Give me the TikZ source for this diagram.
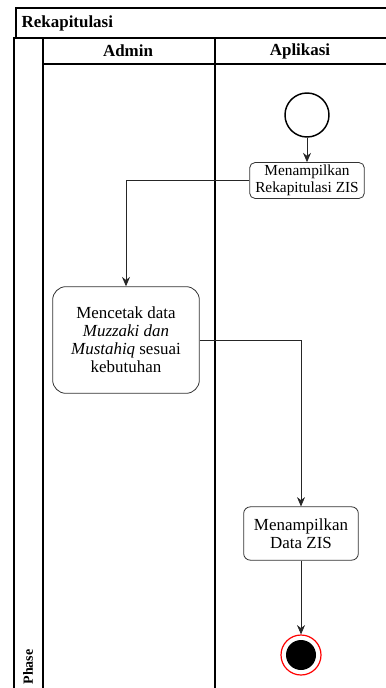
\documentclass[tikz,border=0pt]{standalone}
\usepackage{fontspec}
\setmainfont{Liberation Serif}
\usetikzlibrary{positioning, arrows.meta}
\tikzset{
    lane/.style={draw, line width=0.8pt}, % swimlane borders
    lanetitle/.style={font=\fontsize{12.7}{14}\selectfont\bfseries},
    action/.style={ % activity boxes
        draw=black!80,
        semithick,
        rounded corners=4pt,
        align=center,
        inner sep=2pt,
        font=\fontsize{12.7}{13.5}\selectfont
    },
    startnode/.style={circle, draw, line width=1.1pt, minimum size=33pt, inner sep=0pt},
    endnode/.style={circle, draw=red, line width=0.9pt, minimum size=30pt, inner sep=0pt},
    flow/.style={ % control flow
        draw=black!85,
        semithick,
        -{Stealth[length=7pt,width=6pt]}
    }
}
\begin{document}
\begin{tikzpicture}[x=0.75pt,y=-0.75pt]
    \useasboundingbox (0,0) rectangle (385,688);
    % pool and lanes
    \draw[lane] (16,8) rectangle (390,38);
    \draw[lane] (14,38) rectangle (390,700);
    \draw[lane] (43,38) -- (43,700);
    \draw[lane] (43,64) -- (390,64);
    \draw[lane] (215,38) -- (215,700);
    \node[lanetitle, anchor=west] (pool) at (17,23) {Rekapitulasi};
    \node[lanetitle] (admin) at (128,51) {Admin};
    \node[lanetitle] (app) at (300,51) {Aplikasi};
    \node[font=\fontsize{10.5}{12}\selectfont\bfseries, rotate=90] (phase) at (28,667) {Phase};
    % activities
    \node[startnode] (start) at (307,115) {};
    \node[action, font=\fontsize{11.5}{12.5}\selectfont, minimum width=86pt, minimum height=25pt] (show1) at (307,180.5)
        {Menampilkan\\Rekapitulasi ZIS};
    \node[action, rounded corners=10pt, minimum width=110pt, minimum height=80pt] (print) at (126,340)
        {Mencetak data\\\textit{Muzzaki dan}\\\textit{Mustahiq} sesuai\\kebutuhan};
    \node[action, rounded corners=5pt, minimum width=86pt, minimum height=40pt] (show2) at (301,533.5)
        {Menampilkan\\Data ZIS};
    \node[endnode] (end) at (301,655) {};
    \fill (end.center) circle (15);
    % flows
    \draw[flow] (start) -- (show1);
    \draw[flow] (show1.west) -| (print.north);
    \draw[flow] (print.east) -| (show2.north);
    \draw[flow] (show2) -- (end);
\end{tikzpicture}
\end{document}
